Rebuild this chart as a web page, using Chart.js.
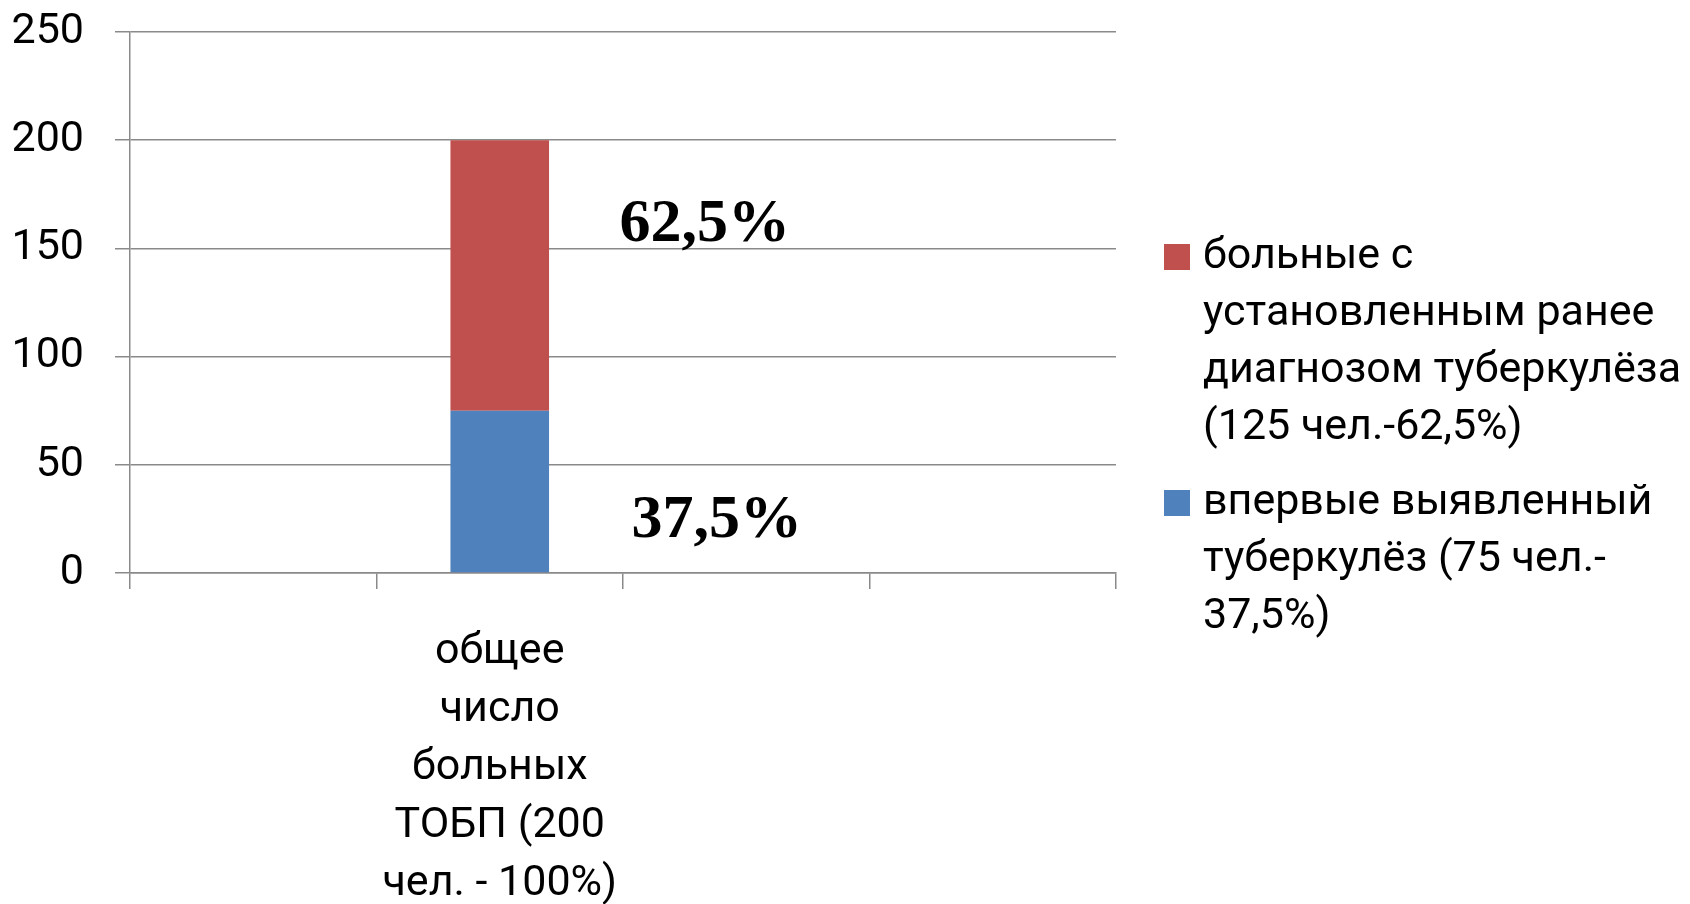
<!DOCTYPE html>
<html>
<head>
<meta charset="utf-8">
<script src="https://cdn.jsdelivr.net/npm/chart.js@4.4.1/dist/chart.umd.min.js"></script>
<style>
  html, body { margin: 0; padding: 0; background: #ffffff; }
  #wrap { position: relative; width: 1690px; height: 904px; }
</style>
</head>
<body>
<div id="wrap"><canvas id="c" width="1690" height="904"></canvas></div>
<script>
// ---- data ----
const categories = [
  '',
  ['общее', 'число', 'больных', 'ТОБП (200', 'чел. - 100%)'],
  '',
  ''
];
const newlyDetected = [null, 75, null, null];        // впервые выявленный
const previouslyDiagnosed = [null, 125, null, null]; // установленным ранее
const yTicks = [0, 50, 100, 150, 200, 250];
const seriesNames = [
  'впервые выявленный туберкулёз (75 чел.-37,5%)',
  'больные с установленным ранее диагнозом туберкулёза (125 чел.-62,5%)'
];
const legendLinesRed = ['больные с', 'установленным ранее', 'диагнозом туберкулёза', '(125 чел.-62,5%)'];
const legendLinesBlue = ['впервые выявленный', 'туберкулёз (75 чел.-', '37,5%)'];
const percentLabels = ['62,5%', '37,5%'];

const RED = '#C0504D';
const BLUE = '#4F81BD';
const GRID = '#8a8a8a';
const FONT = 'Roboto';

const overlayPlugin = {
  id: 'overlay',
  afterDraw(chart) {
    const ctx = chart.ctx;
    const x = chart.scales.x, y = chart.scales.y;
    // percentage annotations
    ctx.save();
    ctx.fillStyle = '#000';
    ctx.font = 'bold 62px "Liberation Serif"';
    ctx.textAlign = 'center';
    ctx.textBaseline = 'middle';
    ctx.fillText(percentLabels[0], x.getPixelForValue(1) + 205, y.getPixelForValue(161));
    ctx.fillText(percentLabels[1], x.getPixelForValue(1) + 217, y.getPixelForValue(24));
    ctx.restore();

    // legend
    ctx.save();
    ctx.font = '43px ' + FONT;
    ctx.textAlign = 'left';
    ctx.textBaseline = 'middle';
    const sqX = 1164, txtX = 1203, lh = 57, sq = 26;
    const items = [
      { color: RED, lines: legendLinesRed, top: 257 },
      { color: BLUE, lines: legendLinesBlue, top: 503 }
    ];
    items.forEach(it => {
      ctx.fillStyle = it.color;
      ctx.fillRect(sqX, it.top - sq / 2, sq, sq);
      ctx.fillStyle = '#000';
      it.lines.forEach((ln, i) => ctx.fillText(ln, txtX, it.top + i * lh));
    });
    ctx.restore();
  }
};

new Chart(document.getElementById('c'), {
  type: 'bar',
  data: {
    labels: categories,
    datasets: [
      { label: seriesNames[0], data: newlyDetected, backgroundColor: BLUE, borderWidth: 0,
        categoryPercentage: 1, barPercentage: 0.4 },
      { label: seriesNames[1], data: previouslyDiagnosed, backgroundColor: RED, borderWidth: 0,
        categoryPercentage: 1, barPercentage: 0.4 }
    ]
  },
  options: {
    responsive: false,
    animation: false,
    devicePixelRatio: 1,
    layout: { padding: { left: 0, right: 574, top: 32, bottom: 0 } },
    plugins: {
      legend: { display: false },
      tooltip: { enabled: false }
    },
    scales: {
      x: {
        stacked: true,
        afterFit(scale) { scale.height = 331; scale.paddingLeft = 0; scale.paddingRight = 0; },
        grid: { display: true, drawOnChartArea: false, drawTicks: true, tickLength: 16, color: GRID, lineWidth: 1.5, offset: true },
        border: { display: true, color: GRID, width: 1.5 },
        ticks: { color: '#000', font: { family: FONT, size: 43, lineHeight: 1.35 }, padding: 34, maxRotation: 0, autoSkip: false }
      },
      y: {
        stacked: true,
        min: 0, max: 250,
        afterFit(scale) { scale.width = 130; scale.paddingTop = 0; scale.paddingBottom = 0; },
        afterBuildTicks(scale) { scale.ticks = yTicks.map(v => ({ value: v })); },
        grid: { color: GRID, lineWidth: 1.5, tickLength: 15 },
        border: { display: true, color: GRID, width: 1.5 },
        ticks: { color: '#000', font: { family: FONT, size: 43 }, padding: 31 }
      }
    }
  },
  plugins: [overlayPlugin]
});
</script>
</body>
</html>
